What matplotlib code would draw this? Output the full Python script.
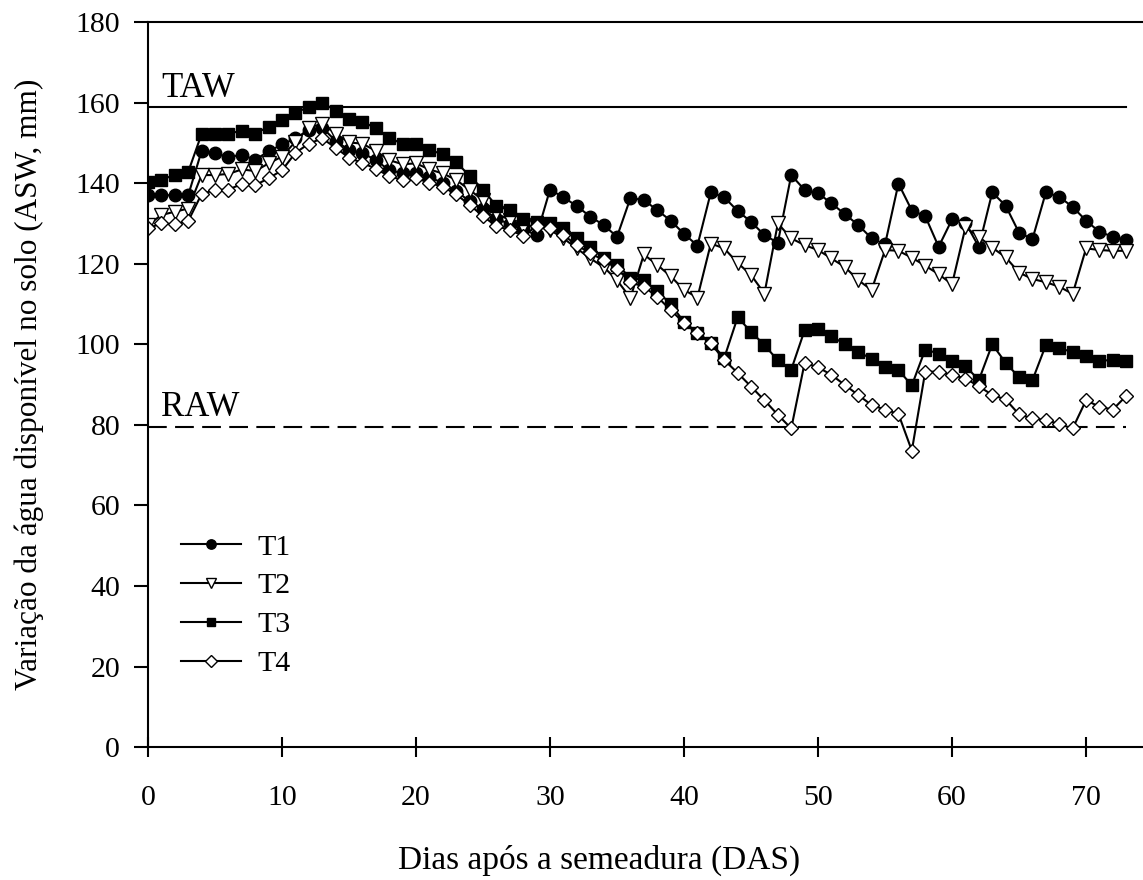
import numpy as np
import matplotlib
matplotlib.use("Agg")
from matplotlib import pyplot as plt

plt.rcParams['font.family'] = ['Liberation Serif', 'DejaVu Serif']

# dias apos a semeadura
das = np.arange(0, 74)

t1 = [137, 137, 137, 137, 148.0, 147.4, 146.5, 147.0, 145.8, 147.9,
      149.6, 151.1, 153.2, 153.8, 150.5, 148.2, 147.5, 145.7, 143.2, 142.5,
      142.5, 141.5, 140.0, 138.0, 135.5, 133.5, 131.2, 129.8, 128.5, 127.1,
      138.4, 136.5, 134.3, 131.7, 129.6, 126.7, 136.3, 135.8, 133.3, 130.7,
      127.4, 124.5, 137.7, 136.5, 133.1, 130.4, 127.1, 125.2, 142.0, 138.3,
      137.5, 135.0, 132.3, 129.6, 126.3, 124.8, 139.9, 133.2, 131.8, 124.2,
      131.0, 130.2, 124.2, 137.7, 134.4, 127.7, 126.1, 137.7, 136.6, 134.1,
      130.7, 127.9, 126.7, 125.9]

t2 = [129.6, 132.1, 132.9, 133.7, 142.0, 142.0, 142.3, 143.4, 143.0, 144.9,
      146.6, 150.3, 153.8, 154.7, 152.3, 150.1, 149.8, 148.0, 145.7, 144.7,
      144.9, 143.4, 142.4, 140.8, 138.3, 135.8, 132.5, 130.8, 129.2, 129.6,
      128.4, 126.3, 123.8, 121.3, 119.2, 115.9, 111.5, 122.3, 119.7, 116.9,
      113.5, 111.6, 125.0, 123.8, 120.2, 117.2, 112.6, 130.0, 126.3, 124.6,
      123.4, 121.3, 119.2, 115.9, 113.5, 123.4, 123.2, 121.5, 119.5, 117.4,
      114.9, 129.0, 126.7, 124.0, 121.6, 117.8, 116.2, 115.4, 114.3, 112.5,
      123.8, 123.4, 123.2, 123.2]

t3 = [140.3, 140.9, 142.0, 142.8, 152.2, 152.2, 152.3, 153.0, 152.3, 154.0,
      155.7, 157.4, 159.0, 160.0, 158.0, 155.8, 155.3, 153.6, 151.3, 149.7,
      149.7, 148.2, 147.2, 145.2, 141.8, 138.4, 134.3, 133.3, 131.2, 130.4,
      130.0, 128.8, 126.3, 124.2, 121.3, 119.7, 116.5, 115.9, 113.2, 110.0,
      105.5, 102.9, 100.4, 96.6, 106.7, 103.1, 99.8, 96.0, 93.7, 103.5,
      103.9, 102.0, 100.0, 98.1, 96.4, 94.4, 93.6, 89.8, 98.7, 97.7,
      95.8, 94.6, 91.1, 100.0, 95.4, 91.8, 91.1, 99.8, 99.0, 98.1,
      97.1, 95.8, 96.2, 95.9]

t4 = [128.8, 130.0, 129.8, 130.6, 137.3, 138.3, 138.4, 139.8, 139.5, 141.2,
      143.2, 147.5, 149.8, 151.1, 148.8, 146.3, 145.0, 143.6, 141.7, 140.8,
      141.2, 140.1, 139.1, 137.2, 134.6, 131.8, 129.3, 128.4, 126.9, 129.3,
      128.9, 127.1, 124.6, 122.6, 120.9, 118.8, 115.4, 114.3, 111.8, 108.5,
      105.3, 102.7, 100.2, 96.1, 92.9, 89.5, 86.1, 82.5, 79.1, 95.4,
      94.3, 92.4, 89.9, 87.4, 84.9, 83.8, 82.7, 73.6, 93.2, 93.2,
      92.4, 91.5, 89.6, 87.4, 86.3, 82.6, 81.6, 81.2, 80.2, 79.1,
      86.1, 84.5, 83.8, 87.2]

taw = 159
raw = 79.5

fig = plt.figure(figsize=(11.43, 8.8), dpi=100)
ax = fig.add_axes([0.1295, 0.151, 0.8705, 0.824])

ax.axhline(taw, xmin=0, xmax=73 / 74.25, color='black', linewidth=1.5)
ax.plot([0, 73], [raw, raw], color='black', linewidth=1.5, dashes=(9, 4))

ax.plot(das, t1, color='black', linewidth=1.5, marker='o', markersize=9,
        markerfacecolor='black', markeredgecolor='black', label='T1')
ax.plot(das, t2, color='black', linewidth=1.5, marker='v', markersize=10,
        markerfacecolor='white', markeredgecolor='black', markeredgewidth=1, label='T2')
ax.plot(das, t3, color='black', linewidth=1.5, marker='s', markersize=8.5,
        markerfacecolor='black', markeredgecolor='black', label='T3')
ax.plot(das, t4, color='black', linewidth=1.5, marker='D', markersize=7.5,
        markerfacecolor='white', markeredgecolor='black', markeredgewidth=1, label='T4')

ax.text(1.0, 163.6, 'TAW', fontsize=25, va='center', ha='left')
ax.text(1.0, 84.2, 'RAW', fontsize=25, va='center', ha='left')

ax.set_xlim(0, 74.25)
ax.set_ylim(0, 180)
ax.set_xticks(np.arange(0, 71, 10))
ax.set_yticks(np.arange(0, 181, 20))
ax.tick_params(axis='x', direction='inout', length=14, width=1.5, labelsize=21.5, pad=20)
ax.tick_params(axis='y', direction='out', length=10, width=1.5, labelsize=21.5, pad=10)
for s in ['left', 'bottom', 'top']:
    ax.spines[s].set_linewidth(1.5)
ax.spines['right'].set_visible(False)

ax.set_xlabel('Dias após a semeadura (DAS)', fontsize=24)
ax.xaxis.set_label_coords(0.453, -0.135)
ax.set_ylabel('Variação da água disponível no solo (ASW, mm)', fontsize=22.5)
ax.yaxis.set_label_coords(-0.105, 0.5)

ax.legend(loc='upper left', bbox_to_anchor=(0.018, 0.315), frameon=False,
          fontsize=21.5, handlelength=2.0, markerscale=0.75, labelspacing=0.4,
          handletextpad=0.55, borderpad=0)

fig.savefig('out.png', dpi=100)
